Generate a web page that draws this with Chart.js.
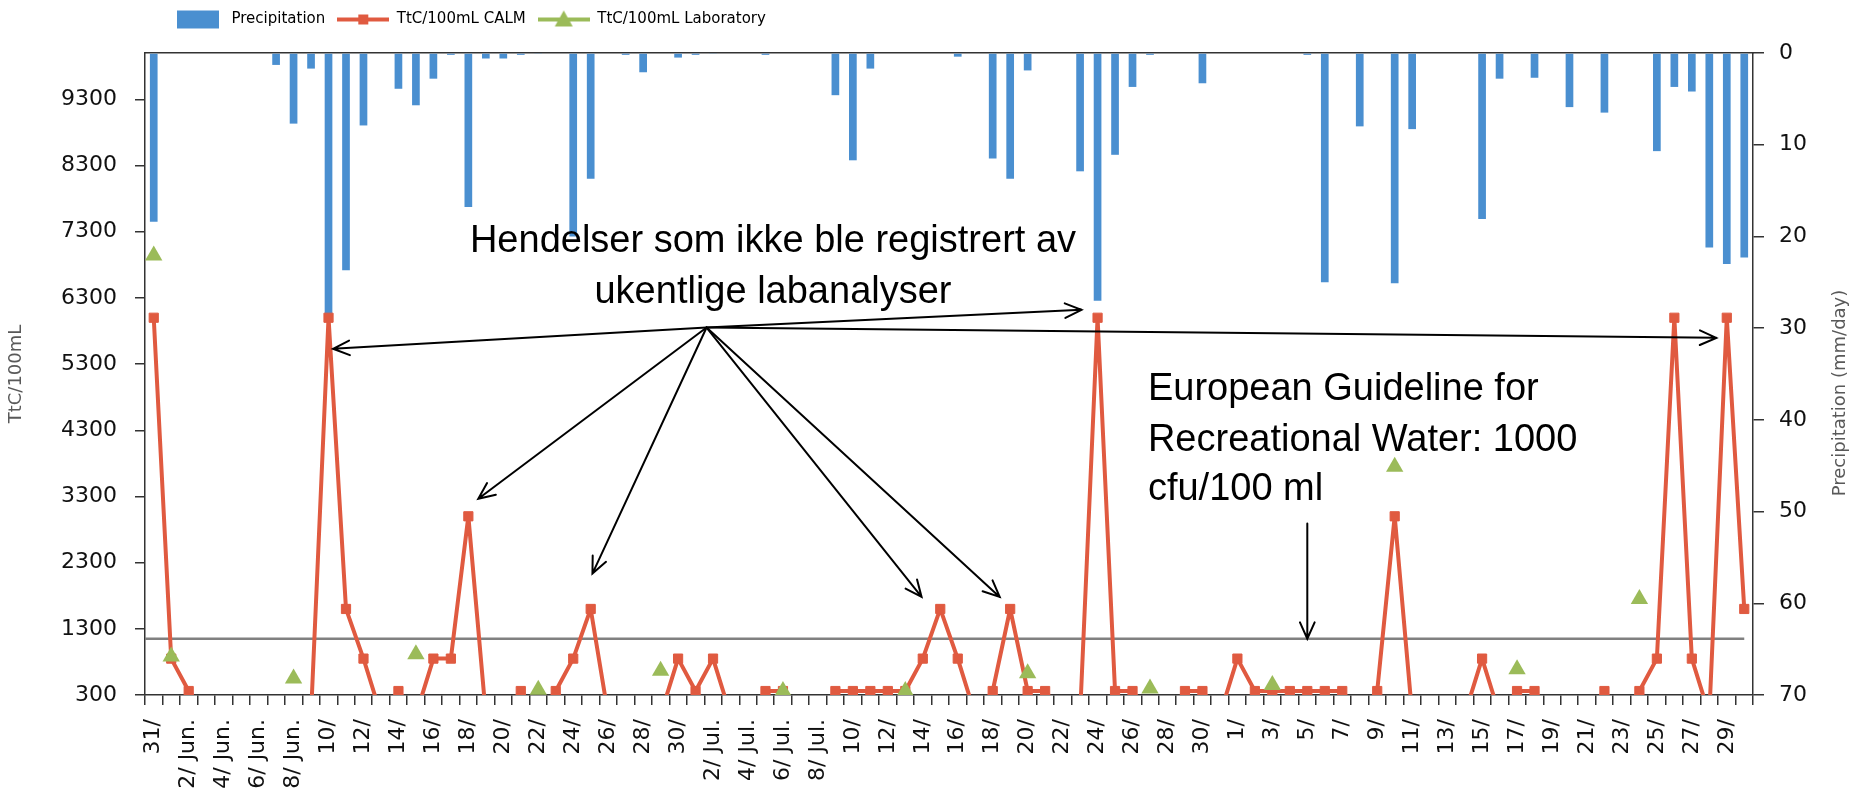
<!DOCTYPE html>
<html>
<head>
<meta charset="utf-8">
<title>TtC/100mL og nedbør</title>
<script src="https://cdn.jsdelivr.net/npm/chart.js@4.4.1/dist/chart.umd.min.js"></script>
<style>
    html, body { margin: 0; padding: 0; background: #ffffff; }
    #wrap { width: 1854px; height: 797px; }
</style>
</head>
<body>
<div id="wrap"><canvas id="chart" width="1854" height="797"></canvas></div>
<script>
// Dager fra 31. mai til 30. august
const MONTHS = [['May', 31, 31], ['Jun', 1, 30], ['Jul', 1, 31], ['Aug', 1, 30]];
const CATEGORIES = [];
MONTHS.forEach(function (m) {
    for (let d = m[1]; d <= m[2]; d++) CATEGORIES.push(d + ' ' + m[0]);
});

// Aksetekst, hver andre dag (som i Excel-figuren)
const TICK_LABELS = ['31/', '2/ Jun.', '4/ Jun.', '6/ Jun.', '8/ Jun.', '10/', '12/', '14/', '16/', '18/',
    '20/', '22/', '24/', '26/', '28/', '30/', '2/ Jul.', '4/ Jul.', '6/ Jul.', '8/ Jul.',
    '10/', '12/', '14/', '16/', '18/', '20/', '22/', '24/', '26/', '28/', '30/',
    '1/', '3/', '5/', '7/', '9/', '11/', '13/', '15/', '17/', '19/', '21/', '23/', '25/', '27/', '29/'];

const LEFT_TICKS = [300, 1300, 2300, 3300, 4300, 5300, 6300, 7300, 8300, 9300];
const GUIDELINE = 1150;

// Nedbør (mm/dag)
const PRECIP = [
    18.4, 0, 0, 0, 0, 0, 0, 1.3, 7.7, 1.7,
    28.6, 23.7, 7.9, 0, 3.9, 5.7, 2.8, 0.2, 16.8, 0.6,
    0.6, 0.2, 0.1, 0, 20.0, 13.7, 0, 0.2, 2.1, 0,
    0.5, 0.2, 0.1, 0, 0, 0.2, 0, 0, 0, 4.6,
    11.7, 1.7, 0, 0, 0, 0, 0.4, 0, 11.5, 13.7,
    1.9, 0, 0, 12.9, 27.0, 11.1, 3.7, 0.2, 0, 0,
    3.3, 0, 0, 0, 0, 0, 0.2, 25.0, 0, 8.0,
    0, 25.1, 8.3, 0, 0, 0, 18.1, 2.8, 0, 2.7,
    0, 5.9, 0, 6.5, 0, 0, 10.7, 3.7, 4.2, 21.2,
    23.0, 22.3
];

// TtC/100mL fra CALM (verdier under 300 faller utenfor aksen)
const CALM = [
    6000, 850, 360, 0, 0, 0, 0, 0, 0, 0,
    6000, 1600, 850, 0, 360, 0, 850, 850, 3000, 0,
    0, 360, 0, 360, 850, 1600, 0, 0, 0, 0,
    850, 360, 850, 0, 0, 360, 360, 0, 0, 360,
    360, 360, 360, 360, 850, 1600, 850, 0, 360, 1600,
    360, 360, 0, 0, 6000, 360, 360, 0, 0, 360,
    360, 0, 850, 360, 360, 360, 360, 360, 360, 0,
    360, 3000, 0, 0, 0, 0, 850, 0, 360, 360,
    0, 0, 0, 360, 0, 360, 850, 6000, 850, 0,
    6000, 1600
];

// TtC/100mL fra ukentlige labanalyser
const LAB = [
    6940, 880, null, null, null, null, null, null, 550, null,
    null, null, null, null, null, 915, null, null, null, null,
    null, null, 380, null, null, null, null, null, null, 665,
    null, null, null, null, null, null, 360, null, null, null,
    null, null, null, 360, null, null, null, null, null, null,
    630, null, null, null, null, null, null, 400, null, null,
    null, null, null, null, 450, null, null, null, null, null,
    null, 3750, null, null, null, null, null, null, 690, null,
    null, null, null, null, null, 1750, null, null, null, null,
    null, null
];

// Merknader (kategori-indeks, verdi på venstre akse)
const NOTE_LINES = ['Hendelser som ikke ble registrert av', 'ukentlige labanalyser'];
const GUIDE_LINES = ['European Guideline for', 'Recreational Water: 1000', 'cfu/100 ml'];
const NOTE_ANCHOR = { i: 35.43, v: [6993, 6224] };
const GUIDE_ANCHOR = { i: 56.88, v: [4762, 3993, 3239] };
const ARROW_FROM = { i: 31.63, v: 5852 };
const ARROW_TO = [
    { i: 10.26, v: 5531 }, { i: 18.57, v: 3265 }, { i: 25.1, v: 2134 },
    { i: 43.93, v: 1782 }, { i: 48.4, v: 1782 }, { i: 53.08, v: 6119 }, { i: 89.4, v: 5696 }
];
const GUIDE_ARROW = { i: 66, from: 2893, to: GUIDELINE };

const BLUE = '#4a8fd0';
const RED = '#e05a40';
const GREEN = '#9bbb59';
const AXIS = '#333333';

// Legendesymboler som i Excel
function legendIcon(kind, color) {
    const c = document.createElement('canvas');
    c.width = kind === 'bar' ? 42 : 52;
    c.height = 20;
    const g = c.getContext('2d');
    g.fillStyle = color;
    g.strokeStyle = color;
    if (kind === 'bar') {
        g.fillRect(0, 1, 42, 18);
    } else {
        g.lineWidth = 4;
        g.beginPath();
        g.moveTo(0, 10);
        g.lineTo(52, 10);
        g.stroke();
        if (kind === 'rect') {
            g.fillRect(21, 5, 10, 10);
        } else {
            g.beginPath();
            g.moveTo(26, 1);
            g.lineTo(35, 17);
            g.lineTo(17, 17);
            g.closePath();
            g.fill();
        }
    }
    return c;
}
const ICONS = [legendIcon('bar', BLUE), legendIcon('rect', RED), legendIcon('tri', GREEN)];

function drawArrow(ctx, x0, y0, x1, y1) {
    const a = Math.atan2(y1 - y0, x1 - x0);
    const len = 18, spread = 0.42;
    ctx.beginPath();
    ctx.moveTo(x0, y0);
    ctx.lineTo(x1, y1);
    ctx.moveTo(x1 - len * Math.cos(a - spread), y1 - len * Math.sin(a - spread));
    ctx.lineTo(x1, y1);
    ctx.lineTo(x1 - len * Math.cos(a + spread), y1 - len * Math.sin(a + spread));
    ctx.stroke();
}

// Legenden plasseres oppe til venstre, og får fast høyde
const legendSpot = {
    id: 'legendSpot',
    beforeLayout(chart) {
        const lg = chart.legend;
        if (lg && !lg._fixed) {
            const fit = lg.fit;
            lg.fit = function () {
                fit.call(this);
                this.height = 53;
            };
            lg._fixed = true;
        }
    },
    afterLayout(chart) {
        const lg = chart.legend;
        if (!lg) return;
        const w = lg.right - lg.left;
        lg.left = 160;
        lg.right = 160 + w;
    }
};

// Grenseverdi, piler og tekst
const notes = {
    id: 'notes',
    beforeDatasetsDraw(chart) {
        const { ctx, chartArea, scales: { x, y } } = chart;
        const gy = y.getPixelForValue(GUIDELINE);
        ctx.save();
        ctx.strokeStyle = '#808080';
        ctx.lineWidth = 2.5;
        ctx.beginPath();
        ctx.moveTo(chartArea.left, gy);
        ctx.lineTo(x.getPixelForValue(CATEGORIES.length - 1), gy);
        ctx.stroke();
        ctx.restore();
    },
    afterDatasetsDraw(chart) {
        const { ctx, chartArea, scales: { x, y, y2 } } = chart;
        ctx.save();
        ctx.strokeStyle = '#000';
        ctx.lineWidth = 2;
        ctx.lineCap = 'round';
        const sx = x.getPixelForValue(ARROW_FROM.i);
        const sy = y.getPixelForValue(ARROW_FROM.v);
        ARROW_TO.forEach(function (t) {
            drawArrow(ctx, sx, sy, x.getPixelForValue(t.i), y.getPixelForValue(t.v));
        });
        const gx = x.getPixelForValue(GUIDE_ARROW.i);
        drawArrow(ctx, gx, y.getPixelForValue(GUIDE_ARROW.from), gx, y.getPixelForValue(GUIDE_ARROW.to));

        ctx.fillStyle = '#000';
        ctx.font = "38px 'Liberation Sans', Arial, sans-serif";
        ctx.textBaseline = 'alphabetic';
        ctx.textAlign = 'center';
        NOTE_LINES.forEach(function (t, k) {
            ctx.fillText(t, x.getPixelForValue(NOTE_ANCHOR.i), y.getPixelForValue(NOTE_ANCHOR.v[k]));
        });
        ctx.textAlign = 'left';
        GUIDE_LINES.forEach(function (t, k) {
            ctx.fillText(t, x.getPixelForValue(GUIDE_ANCHOR.i), y.getPixelForValue(GUIDE_ANCHOR.v[k]));
        });

        // Tittel på høyre akse, lest nedenfra og opp
        ctx.translate(y2.right - 14, (chartArea.top + chartArea.bottom) / 2 + 19);
        ctx.rotate(-Math.PI / 2);
        ctx.textAlign = 'center';
        ctx.textBaseline = 'middle';
        ctx.fillStyle = '#595959';
        ctx.font = "18px 'DejaVu Sans', sans-serif";
        ctx.fillText('Precipitation (mm/day)', 0, 0);
        ctx.restore();
    }
};

Chart.defaults.font.family = "'DejaVu Sans', sans-serif";
Chart.defaults.color = '#222';

new Chart(document.getElementById('chart').getContext('2d'), {
    type: 'bar',
    data: {
        labels: CATEGORIES,
        datasets: [
            {
                type: 'bar',
                label: 'Precipitation',
                data: PRECIP,
                xAxisID: 'x',
                yAxisID: 'y2',
                backgroundColor: BLUE,
                barPercentage: 0.44,
                categoryPercentage: 1,
                order: 3
            },
            {
                type: 'line',
                label: 'TtC/100mL CALM',
                data: CALM,
                xAxisID: 'x',
                yAxisID: 'y',
                borderColor: RED,
                backgroundColor: RED,
                borderWidth: 4,
                borderJoinStyle: 'round',
                tension: 0,
                pointStyle: 'rect',
                pointRadius: 6.5,
                pointBorderWidth: 1,
                pointBackgroundColor: RED,
                pointBorderColor: RED,
                order: 2
            },
            {
                type: 'line',
                label: 'TtC/100mL Laboratory',
                data: LAB,
                xAxisID: 'x',
                yAxisID: 'y',
                showLine: false,
                borderColor: GREEN,
                backgroundColor: GREEN,
                pointStyle: 'triangle',
                pointRadius: 10,
                pointBorderWidth: 0,
                pointBackgroundColor: GREEN,
                pointBorderColor: GREEN,
                order: 1
            }
        ]
    },
    options: {
        responsive: false,
        animation: false,
        events: [],
        layout: { padding: 0 },
        plugins: {
            tooltip: { enabled: false },
            legend: {
                position: 'top',
                align: 'start',
                labels: {
                    usePointStyle: true,
                    pointStyleWidth: 52,
                    padding: 12,
                    color: '#222',
                    font: { size: 15 },
                    generateLabels: function (chart) {
                        return chart.data.datasets.map(function (ds, i) {
                            return {
                                text: ds.label,
                                pointStyle: ICONS[i],
                                fillStyle: ds.backgroundColor,
                                strokeStyle: ds.borderColor || ds.backgroundColor,
                                lineWidth: 0,
                                hidden: false,
                                datasetIndex: i
                            };
                        });
                    }
                }
            }
        },
        scales: {
            x: {
                type: 'category',
                position: 'bottom',
                offset: true,
                grid: {
                    offset: true,
                    drawOnChartArea: false,
                    drawTicks: true,
                    tickLength: 10,
                    color: AXIS,
                    lineWidth: 1.5
                },
                border: { color: AXIS, width: 1.5 },
                ticks: {
                    autoSkip: false,
                    minRotation: 90,
                    maxRotation: 90,
                    padding: 14,
                    color: '#111',
                    font: { size: 22 },
                    callback: function (value, index) {
                        return index % 2 === 0 ? TICK_LABELS[index / 2] : '';
                    }
                },
                afterFit: function (scale) { scale.height = 102; }
            },
            xTop: {
                type: 'category',
                position: 'top',
                offset: true,
                grid: { drawOnChartArea: false, drawTicks: false },
                border: { display: true, color: AXIS, width: 1.5 },
                ticks: { display: false },
                afterFit: function (scale) { scale.height = 0; }
            },
            y: {
                type: 'linear',
                position: 'left',
                min: 300,
                max: 10000,
                afterBuildTicks: function (axis) {
                    axis.ticks = LEFT_TICKS.map(function (v) { return { value: v }; });
                },
                grid: {
                    drawOnChartArea: false,
                    tickLength: 10,
                    color: AXIS,
                    lineWidth: 1.5
                },
                border: { color: AXIS, width: 1.5 },
                ticks: {
                    padding: 18,
                    color: '#111',
                    font: { size: 22 },
                    callback: function (value) { return String(value); }
                },
                title: {
                    display: true,
                    text: 'TtC/100mL',
                    color: '#595959',
                    font: { size: 18 },
                    padding: { top: 6, bottom: 0 }
                },
                afterFit: function (scale) { scale.width = 145; }
            },
            y2: {
                type: 'linear',
                position: 'right',
                min: 0,
                max: 70,
                reverse: true,
                grid: {
                    drawOnChartArea: false,
                    tickLength: 11,
                    color: AXIS,
                    lineWidth: 1.5
                },
                border: { color: AXIS, width: 1.5 },
                ticks: {
                    stepSize: 10,
                    padding: 15,
                    color: '#111',
                    font: { size: 22 }
                },
                afterFit: function (scale) { scale.width = 101; }
            }
        }
    },
    plugins: [legendSpot, notes]
});
</script>
</body>
</html>
